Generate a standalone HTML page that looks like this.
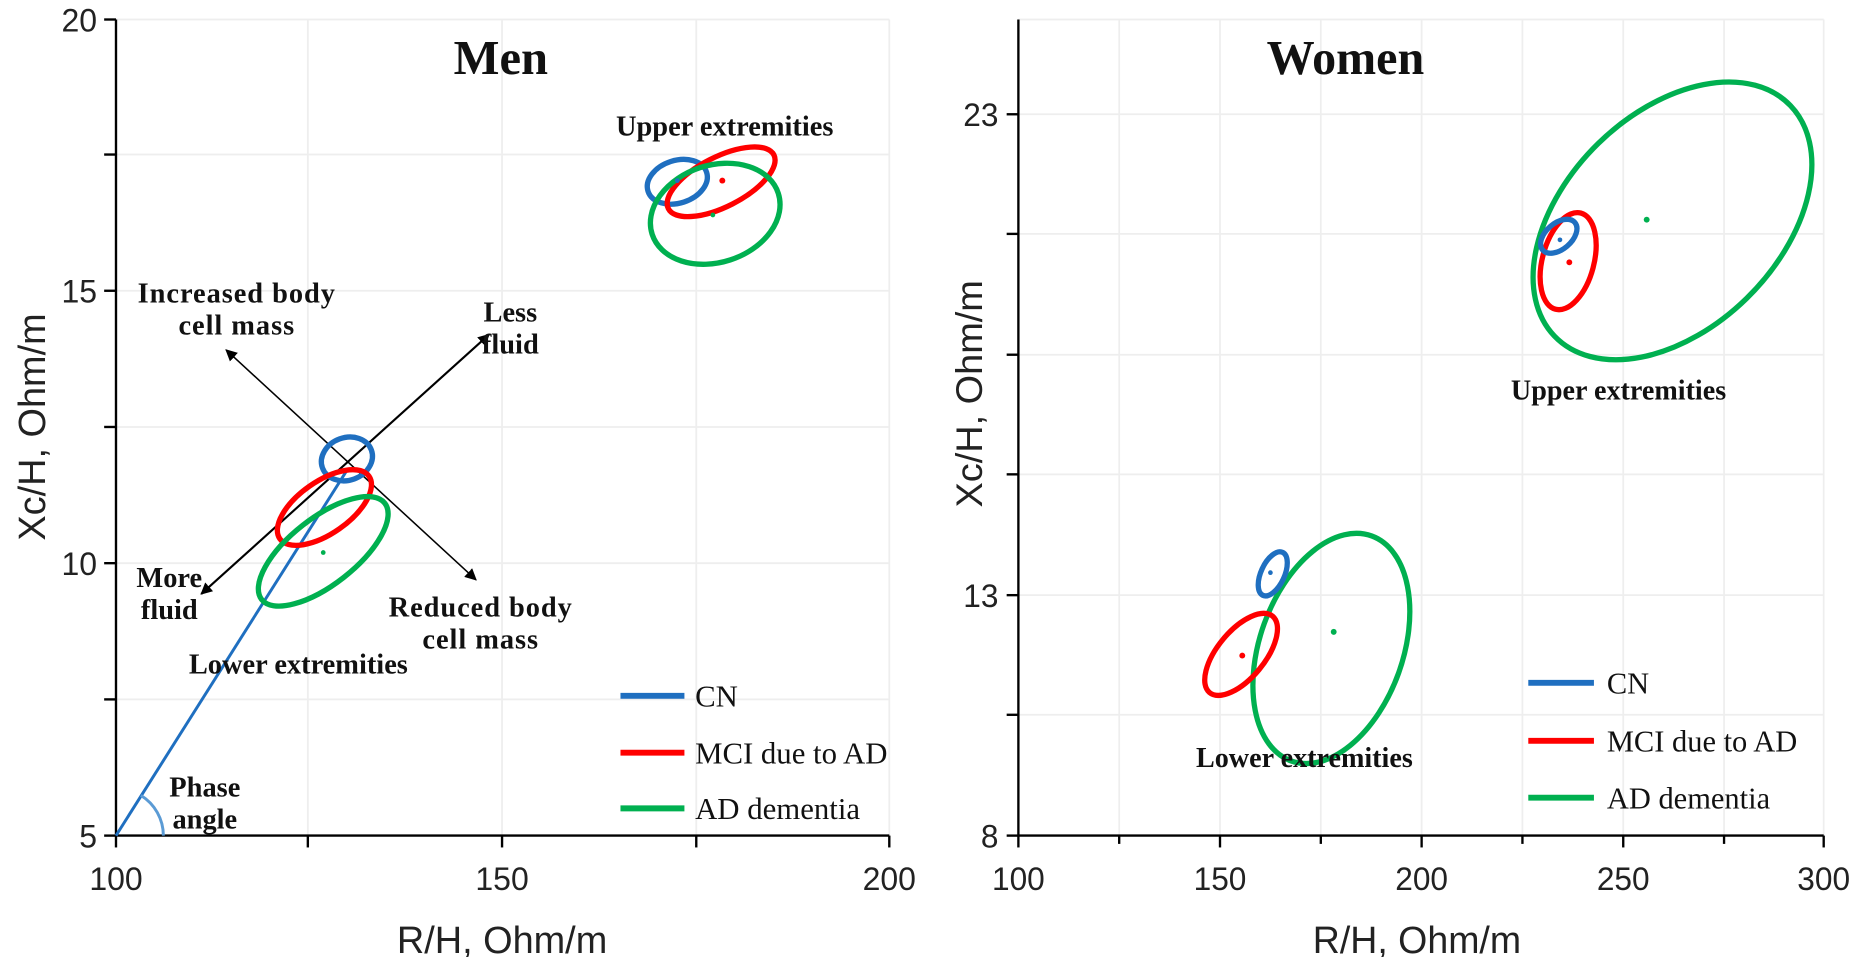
<!DOCTYPE html>
<html><head><meta charset="utf-8"><style>
html,body{margin:0;padding:0;background:#fff}
svg{display:block}
.t{font-family:"Liberation Sans",Arial,sans-serif;fill:#222}
.s{font-family:"Liberation Serif","Times New Roman",serif;fill:#111}
.b{font-weight:bold}
</style></head><body>
<svg width="1856" height="957" viewBox="0 0 1856 957" xmlns="http://www.w3.org/2000/svg">
<defs>
<marker id="ah" markerWidth="10" markerHeight="10" refX="9" refY="5" orient="auto-start-reverse" markerUnits="userSpaceOnUse"><path d="M0,0 L10,5 L0,10 z" fill="#000"/></marker>
</defs>
<g transform="scale(1.1897)">
<g transform="translate(97.5,16.4) scale(0.9954,0.9956) translate(-100,-17)">
<g stroke="#eeeeee" stroke-width="1.5">
<line x1="100" y1="17" x2="753" y2="17"/><line x1="100" y1="131" x2="753" y2="131"/><line x1="100" y1="246" x2="753" y2="246"/><line x1="100" y1="361" x2="753" y2="361"/><line x1="100" y1="476" x2="753" y2="476"/><line x1="100" y1="591" x2="753" y2="591"/>
<line x1="262" y1="17" x2="262" y2="706"/><line x1="426" y1="17" x2="426" y2="706"/><line x1="590" y1="17" x2="590" y2="706"/><line x1="753" y1="17" x2="753" y2="706"/>
</g>
<g stroke="#000" stroke-width="2">
<line x1="100" y1="17" x2="100" y2="706"/><line x1="100" y1="706" x2="753" y2="706"/>
<line x1="90" y1="17" x2="100" y2="17"/><line x1="90" y1="131" x2="100" y2="131"/><line x1="90" y1="246" x2="100" y2="246"/><line x1="90" y1="361" x2="100" y2="361"/><line x1="90" y1="476" x2="100" y2="476"/><line x1="90" y1="591" x2="100" y2="591"/><line x1="90" y1="706" x2="100" y2="706"/>
<line x1="100" y1="706" x2="100" y2="716"/><line x1="262" y1="706" x2="262" y2="716"/><line x1="426" y1="706" x2="426" y2="716"/><line x1="590" y1="706" x2="590" y2="716"/><line x1="753" y1="706" x2="753" y2="716"/>
</g>
<g class="t" font-size="27" text-anchor="end">
<text x="84" y="27">20</text><text x="84" y="256">15</text><text x="84" y="486">10</text><text x="84" y="716">5</text>
</g>
<g class="t" font-size="27" text-anchor="middle">
<text x="100" y="752">100</text><text x="426" y="752">150</text><text x="753" y="752">200</text>
<text x="426" y="805" font-size="32">R/H, Ohm/m</text>
</g>
<text class="t" font-size="32" text-anchor="middle" transform="translate(40,361) rotate(-90)">Xc/H, Ohm/m</text>
<text class="s b" font-size="41" x="425" y="63" text-anchor="middle">Men</text>
<line x1="100" y1="706" x2="296" y2="396" stroke="#1f6fc0" stroke-width="2.5"/>
<path d="M121,672 A40,40 0 0 1 140,706" fill="none" stroke="#5b9bd5" stroke-width="2.5"/>
<line x1="172" y1="502" x2="415" y2="283" stroke="#000" stroke-width="1.8" marker-start="url(#ah)" marker-end="url(#ah)"/>
<line x1="193" y1="296" x2="404" y2="490" stroke="#000" stroke-width="1.3" marker-start="url(#ah)" marker-end="url(#ah)"/>
<g fill="none" stroke-width="4.5">
<ellipse cx="574" cy="154" rx="26" ry="18" transform="rotate(-18 574 154)" stroke="#1f6fc0"/>
<ellipse cx="611" cy="154" rx="50" ry="21" transform="rotate(-27 611 154)" stroke="#ff0000"/>
<ellipse cx="606" cy="181" rx="56" ry="41" transform="rotate(-18 606 181)" stroke="#00b050"/>
<ellipse cx="295" cy="388" rx="22" ry="18" transform="rotate(-20 295 388)" stroke="#1f6fc0"/>
<ellipse cx="276" cy="429" rx="46" ry="22" transform="rotate(-35 276 429)" stroke="#ff0000"/>
<ellipse cx="275" cy="466" rx="66" ry="28" transform="rotate(-38 275 466)" stroke="#00b050"/>
</g>
<circle cx="574" cy="153" r="2" fill="#1f6fc0"/><circle cx="612" cy="153" r="2.5" fill="#ff0000"/><circle cx="604" cy="182" r="2" fill="#00b050"/>
<circle cx="275" cy="467" r="2" fill="#00b050"/>
<g class="s b" font-size="24" text-anchor="middle">
<text x="614" y="115">Upper extremities</text>
<text x="202" y="256" letter-spacing="0.8">Increased body</text><text x="202" y="283" letter-spacing="0.8">cell mass</text>
<text x="433" y="272">Less</text><text x="433" y="299">fluid</text>
<text x="145" y="496">More</text><text x="145" y="523">fluid</text>
<text x="408" y="521" letter-spacing="0.8">Reduced body</text><text x="408" y="548" letter-spacing="0.8">cell mass</text>
<text x="254" y="569">Lower extremities</text>
<text x="175" y="673">Phase</text><text x="175" y="700">angle</text>
</g>
<g stroke-width="5">
<line x1="526" y1="588" x2="580" y2="588" stroke="#1f6fc0"/><line x1="526" y1="636" x2="580" y2="636" stroke="#ff0000"/><line x1="526" y1="683" x2="580" y2="683" stroke="#00b050"/>
</g>
<g class="s" font-size="26"><text x="589" y="597">CN</text><text x="589" y="645">MCI due to AD</text><text x="589" y="692">AD dementia</text></g>
</g>

<g transform="translate(856,16.4) scale(0.9853,0.9956) translate(-853,-17)">
<g stroke="#eeeeee" stroke-width="1.5">
<line x1="853" y1="17" x2="1540" y2="17"/><line x1="853" y1="97" x2="1540" y2="97"/><line x1="853" y1="198" x2="1540" y2="198"/><line x1="853" y1="300" x2="1540" y2="300"/><line x1="853" y1="401" x2="1540" y2="401"/><line x1="853" y1="503" x2="1540" y2="503"/><line x1="853" y1="604" x2="1540" y2="604"/>
<line x1="939" y1="17" x2="939" y2="706"/><line x1="1025" y1="17" x2="1025" y2="706"/><line x1="1111" y1="17" x2="1111" y2="706"/><line x1="1197" y1="17" x2="1197" y2="706"/><line x1="1283" y1="17" x2="1283" y2="706"/><line x1="1369" y1="17" x2="1369" y2="706"/><line x1="1455" y1="17" x2="1455" y2="706"/><line x1="1540" y1="17" x2="1540" y2="706"/>
</g>
<g stroke="#000" stroke-width="2">
<line x1="853" y1="17" x2="853" y2="706"/><line x1="853" y1="706" x2="1540" y2="706"/>
<line x1="843" y1="97" x2="853" y2="97"/><line x1="843" y1="198" x2="853" y2="198"/><line x1="843" y1="300" x2="853" y2="300"/><line x1="843" y1="401" x2="853" y2="401"/><line x1="843" y1="503" x2="853" y2="503"/><line x1="843" y1="604" x2="853" y2="604"/><line x1="843" y1="706" x2="853" y2="706"/>
<line x1="853" y1="706" x2="853" y2="716"/><line x1="939" y1="706" x2="939" y2="713"/><line x1="1025" y1="706" x2="1025" y2="716"/><line x1="1111" y1="706" x2="1111" y2="713"/><line x1="1197" y1="706" x2="1197" y2="716"/><line x1="1283" y1="706" x2="1283" y2="713"/><line x1="1369" y1="706" x2="1369" y2="716"/><line x1="1455" y1="706" x2="1455" y2="713"/><line x1="1540" y1="706" x2="1540" y2="716"/>
</g>
<g class="t" font-size="27" text-anchor="end">
<text x="836" y="107">23</text><text x="836" y="513">13</text><text x="836" y="716">8</text>
</g>
<g class="t" font-size="27" text-anchor="middle">
<text x="853" y="752">100</text><text x="1025" y="752">150</text><text x="1197" y="752">200</text><text x="1369" y="752">250</text><text x="1540" y="752">300</text>
<text x="1193" y="805" font-size="32">R/H, Ohm/m</text>
</g>
<text class="t" font-size="32" text-anchor="middle" transform="translate(822,333) rotate(-90)">Xc/H, Ohm/m</text>
<text class="s b" font-size="41" x="1132" y="63" text-anchor="middle">Women</text>
<g fill="none" stroke-width="4.5">
<ellipse cx="1411" cy="187" rx="140" ry="91" transform="rotate(-44 1411 187)" stroke="#00b050"/>
<ellipse cx="1322" cy="221" rx="22" ry="42" transform="rotate(15 1322 221)" stroke="#ff0000"/>
<ellipse cx="1314" cy="200" rx="18" ry="11" transform="rotate(-40 1314 200)" stroke="#1f6fc0"/>
<ellipse cx="1120" cy="548" rx="61" ry="101" transform="rotate(20 1120 548)" stroke="#00b050"/>
<ellipse cx="1043" cy="553" rx="20" ry="42" transform="rotate(40 1043 553)" stroke="#ff0000"/>
<ellipse cx="1070" cy="485" rx="10" ry="20" transform="rotate(25 1070 485)" stroke="#1f6fc0"/>
</g>
<circle cx="1389" cy="186" r="2.5" fill="#00b050"/><circle cx="1323" cy="222" r="2.5" fill="#ff0000"/><circle cx="1315" cy="203" r="2" fill="#1f6fc0"/>
<circle cx="1122" cy="534" r="2.5" fill="#00b050"/><circle cx="1044" cy="554" r="2.5" fill="#ff0000"/><circle cx="1068" cy="484" r="2" fill="#1f6fc0"/>
<g class="s b" font-size="24" text-anchor="middle">
<text x="1365" y="338">Upper extremities</text>
<text x="1097" y="648">Lower extremities</text>
</g>
<g stroke-width="5">
<line x1="1288" y1="577" x2="1344" y2="577" stroke="#1f6fc0"/><line x1="1288" y1="626" x2="1344" y2="626" stroke="#ff0000"/><line x1="1288" y1="674" x2="1344" y2="674" stroke="#00b050"/>
</g>
<g class="s" font-size="26"><text x="1355" y="586">CN</text><text x="1355" y="635">MCI due to AD</text><text x="1355" y="683">AD dementia</text></g>
</g>
</g>
</svg>
</body></html>
